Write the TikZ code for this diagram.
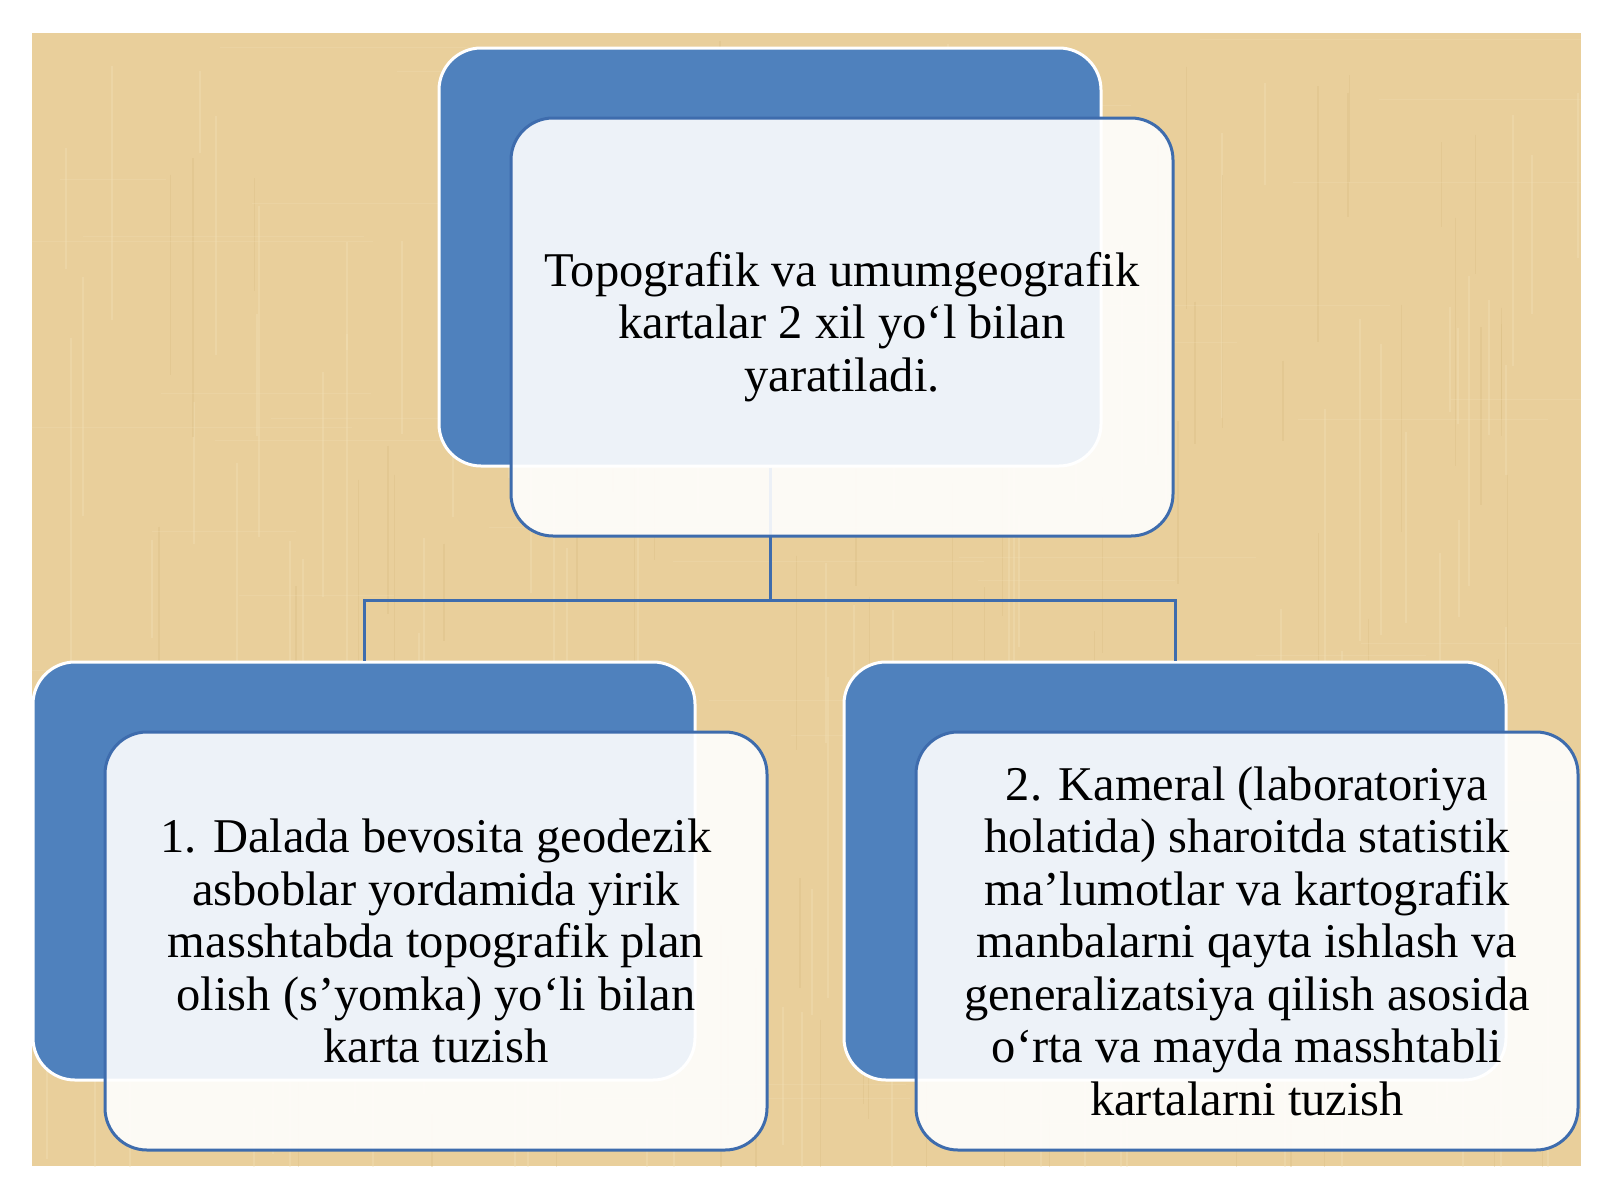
\documentclass[tikz,border=0pt]{standalone}
\usepackage{fontspec}
\setmainfont{Liberation Serif}
\usetikzlibrary{positioning, math, calc}

\definecolor{paper}{HTML}{E9CF9B}
\definecolor{paperLight}{HTML}{F3E2B8}
\definecolor{paperDark}{HTML}{DABD82}
\definecolor{boxBlue}{HTML}{4F81BD}
\definecolor{lineBlue}{HTML}{3E6CAD}

\begin{document}
\begin{tikzpicture}[
				x=1pt, y=-1pt,
				streak/.style={line width=2pt, opacity=0.35},
				link/.style={draw=lineBlue, line width=3pt}
			]
			\tikzmath{
				\boxW   = 662;   %box width
				\boxH   = 418;   %box height
				\shiftX = 72;    %card offset right
				\shiftY = 70;    %card offset down
			}
			\tikzstyle{Back} = [
				minimum width=\boxW pt,
				minimum height=\boxH pt,
				inner sep=0pt,
				draw=white,
				line width=3pt,
				fill=boxBlue,
				rounded corners=42pt
			]
			\tikzstyle{Card} = [
				minimum width=\boxW pt,
				minimum height=\boxH pt,
				inner sep=0pt,
				draw=lineBlue,
				line width=3pt,
				fill=white,
				fill opacity=0.9,
				text opacity=1,
				rounded corners=42pt,
				align=center,
				font=\fontsize{48.5}{52.5}\selectfont
			]
			\useasboundingbox (0,0) rectangle (1600,1200);

			% papyrus background
			\node (paper) [minimum width=1549pt, minimum height=1133pt, inner sep=0pt, fill=paper] at (806.5,599.5) {};
			\begin{scope}
				\clip (paper.north west) rectangle (paper.south east);
				\pgfmathsetseed{17}
				\foreach \k in {1,...,110}{
					\pgfmathsetmacro{\sx}{32+1548*rnd}
					\pgfmathsetmacro{\sy}{20+1100*rnd}
					\pgfmathsetmacro{\sl}{80+300*rnd}
					\draw [streak, paperLight] (\sx,\sy) -- ++(0,\sl);
				}
				\foreach \k in {1,...,90}{
					\pgfmathsetmacro{\sx}{32+1548*rnd}
					\pgfmathsetmacro{\sy}{20+1100*rnd}
					\pgfmathsetmacro{\sl}{60+260*rnd}
					\draw [streak, paperDark, line width=1.5pt] (\sx,\sy) -- ++(0,\sl);
				}
				\foreach \k in {1,...,50}{
					\pgfmathsetmacro{\sx}{-100+1600*rnd}
					\pgfmathsetmacro{\sy}{33+1133*rnd}
					\pgfmathsetmacro{\sl}{100+400*rnd}
					\draw [streak, paperLight, line width=1pt, opacity=0.25] (\sx,\sy) -- ++(\sl,0);
				}
			\end{scope}

			% blue back boxes
			\node (topBack) [Back] at (770,257) {};
			\node (leftBack) [Back] at (364,871) {};
			\node (rightBack) [Back] at (1175,871) {};

			% connectors
			\coordinate (bar) at (0,600);
			\draw [link] (topBack.south) -- (topBack.south |- bar) -| (leftBack.north);
			\draw [link] (topBack.south |- bar) -| (rightBack.north);

			% white cards
			\node (topCard) [Card] at ($(topBack) + (\shiftX,\shiftY)$) {Topografik va umumgeografik\\kartalar 2 xil yo‘l bilan\\yaratiladi.};
			\node (leftCard) [Card] at ($(leftBack) + (\shiftX,\shiftY)$) {1. Dalada bevosita geodezik\\asboblar yordamida yirik\\masshtabda topografik plan\\olish (s’yomka) yo‘li bilan\\karta tuzish};
			\node (rightCard) [Card] at ($(rightBack) + (\shiftX,\shiftY)$) {2. Kameral (laboratoriya\\holatida) sharoitda statistik\\ma’lumotlar va kartografik\\manbalarni qayta ishlash va\\generalizatsiya qilish asosida\\o‘rta va mayda masshtabli\\kartalarni tuzish};
		\end{tikzpicture}
\end{document}
